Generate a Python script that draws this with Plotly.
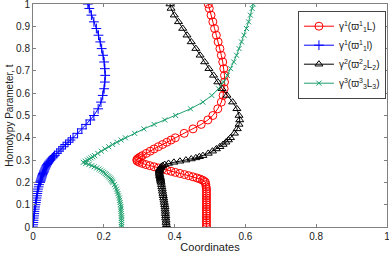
import plotly.graph_objects as go

# shared homotopy parameter values
t = [0.00, 0.01, 0.02, 0.03, 0.04, 0.05, 0.06, 0.07, 0.08, 0.09, 0.10,
     0.11, 0.12, 0.13, 0.14, 0.15, 0.16, 0.17, 0.18, 0.19, 0.20,
     0.205, 0.21, 0.215, 0.22, 0.225, 0.23, 0.235, 0.24, 0.245, 0.25,
     0.255, 0.26, 0.265, 0.27, 0.275, 0.28, 0.285, 0.29, 0.295, 0.30,
     0.305, 0.31, 0.315, 0.32,
     0.33, 0.34, 0.35, 0.36, 0.37, 0.38, 0.39, 0.40,
     0.42, 0.44, 0.46, 0.48, 0.50,
     0.53, 0.56, 0.59, 0.62, 0.65, 0.68, 0.71, 0.74, 0.77, 0.80,
     0.83, 0.86, 0.89, 0.92, 0.95, 0.98, 1.00]

x_red = [0.490, 0.490, 0.490, 0.490, 0.490, 0.490, 0.490, 0.490, 0.490, 0.490, 0.490,
         0.490, 0.490, 0.490, 0.490, 0.490, 0.490, 0.490, 0.489, 0.488, 0.487,
         0.484, 0.479, 0.472, 0.463, 0.452, 0.440, 0.428, 0.415, 0.402, 0.390,
         0.378, 0.366, 0.354, 0.342, 0.330, 0.319, 0.309, 0.301, 0.295, 0.293,
         0.295, 0.299, 0.304, 0.309,
         0.320, 0.331, 0.342, 0.354, 0.366, 0.378, 0.390, 0.402,
         0.427, 0.452, 0.475, 0.494, 0.508,
         0.522, 0.532, 0.537, 0.540, 0.541, 0.541, 0.539, 0.536, 0.532, 0.528,
         0.523, 0.518, 0.513, 0.508, 0.503, 0.498, 0.495]

x_blue = [0.000, 0.0005, 0.001, 0.0015, 0.002, 0.003, 0.0035, 0.004, 0.005, 0.006, 0.007,
          0.008, 0.009, 0.010, 0.011, 0.012, 0.013, 0.014, 0.016, 0.017, 0.020,
          0.021, 0.022, 0.023, 0.024, 0.025, 0.026, 0.027, 0.028, 0.030, 0.031,
          0.032, 0.034, 0.035, 0.037, 0.038, 0.040, 0.042, 0.044, 0.046, 0.049,
          0.052, 0.055, 0.058, 0.061,
          0.067, 0.073, 0.079, 0.085, 0.092, 0.099, 0.106, 0.113,
          0.126, 0.138, 0.150, 0.162, 0.172,
          0.184, 0.192, 0.197, 0.201, 0.203, 0.204, 0.203, 0.201, 0.198, 0.194,
          0.190, 0.185, 0.179, 0.172, 0.165, 0.159, 0.155]

x_black = [0.377, 0.377, 0.376, 0.376, 0.375, 0.375, 0.374, 0.374, 0.373, 0.373, 0.372,
           0.371, 0.370, 0.369, 0.368, 0.367, 0.366, 0.365, 0.364, 0.363, 0.362,
           0.361, 0.361, 0.360, 0.360, 0.359, 0.358, 0.358, 0.357, 0.357, 0.357,
           0.357, 0.358, 0.360, 0.362, 0.366, 0.372, 0.383, 0.398, 0.415, 0.432,
           0.447, 0.460, 0.470, 0.480,
           0.495, 0.507, 0.518, 0.528, 0.537, 0.545, 0.552, 0.558,
           0.569, 0.577, 0.582, 0.584, 0.582,
           0.576, 0.564, 0.548, 0.534, 0.522, 0.510, 0.497, 0.485, 0.472, 0.460,
           0.447, 0.435, 0.423, 0.411, 0.399, 0.390, 0.387]

x_green = [0.250, 0.250, 0.250, 0.250, 0.250, 0.250, 0.249, 0.249, 0.248, 0.248, 0.247,
           0.246, 0.245, 0.244, 0.242, 0.240, 0.238, 0.236, 0.233, 0.230, 0.226,
           0.224, 0.222, 0.220, 0.217, 0.214, 0.211, 0.207, 0.204, 0.200, 0.196,
           0.191, 0.186, 0.180, 0.173, 0.166, 0.158, 0.149, 0.142, 0.148, 0.154,
           0.159, 0.164, 0.169, 0.174,
           0.183, 0.193, 0.203, 0.214, 0.225, 0.237, 0.249, 0.261,
           0.287, 0.313, 0.342, 0.372, 0.403,
           0.445, 0.480, 0.505, 0.524, 0.538, 0.549, 0.558, 0.567, 0.575, 0.582,
           0.589, 0.596, 0.603, 0.609, 0.614, 0.619, 0.622]

names = ["γ<sup>1</sup>(ϖ<sup>1</sup><sub>1</sub>L)",
         "γ<sup>1</sup>(ϖ<sup>1</sup><sub>1</sub>l)",
         "γ<sup>2</sup>(ϖ<sup>2</sup><sub>2</sub>L<sub>2</sub>)",
         "γ<sup>3</sup>(ϖ<sup>3</sup><sub>3</sub>L<sub>3</sub>)"]

x_ticks = [0, 0.2, 0.4, 0.6, 0.8, 1]
x_tick_labels = ["0", "0.2", "0.4", "0.6", "0.8", "1"]
y_ticks = [0, 0.1, 0.2, 0.3, 0.4, 0.5, 0.6, 0.7, 0.8, 0.9, 1]
y_tick_labels = ["0", "0.1", "0.2", "0.3", "0.4", "0.5", "0.6", "0.7", "0.8", "0.9", "1"]

green = "rgb(30,160,110)"
series = [
    (x_red, names[0], "red", "circle-open", 8),
    (x_blue, names[1], "blue", "cross-thin-open", 7),
    (x_black, names[2], "black", "triangle-up-open", 7),
    (x_green, names[3], green, "x-thin-open", 5),
]

fig = go.Figure()
for i, (xs, nm, col, sym, sz) in enumerate(series):
    fig.add_trace(go.Scatter(
        x=xs, y=t, mode="lines+markers", name=nm,
        line=dict(color=col, width=1),
        marker=dict(symbol=sym, size=sz, color=col, line=dict(color=col, width=1)),
    ))

font_fam = "Liberation Sans, Arial"
axis_common = dict(
    showgrid=False, zeroline=False, showline=True, linecolor="#808080", linewidth=1,
    mirror="ticks", ticks="inside", ticklen=3, tickcolor="#808080",
    tickfont=dict(family=font_fam, size=10, color="#222"),
    automargin=False, ticklabeloverflow="allow",
)
fig.update_xaxes(range=[0, 1], tickvals=x_ticks, ticktext=x_tick_labels,
                 title=dict(text="Coordinates", standoff=0,
                            font=dict(family=font_fam, size=11, color="#222")),
                 **axis_common)
fig.update_yaxes(range=[0, 1], tickvals=y_ticks, ticktext=y_tick_labels,
                 title=dict(text="Homotypy Parameter, t", standoff=0,
                            font=dict(family=font_fam, size=10, color="#222")),
                 **axis_common)

fig.update_layout(
    width=389, height=253,
    margin=dict(l=33, r=2, t=4, b=26, autoexpand=False),
    plot_bgcolor="white", paper_bgcolor="white",
    showlegend=True,
    legend=dict(x=0.997, y=0.97, xanchor="right", yanchor="top",
                bgcolor="white", bordercolor="#444", borderwidth=1,
                font=dict(family=font_fam, size=10, color="#222"),
                itemwidth=30),
)

fig.write_html("out.html", config={"displayModeBar": False},
               post_script="document.body.style.margin='0';document.body.style.padding='0';")
